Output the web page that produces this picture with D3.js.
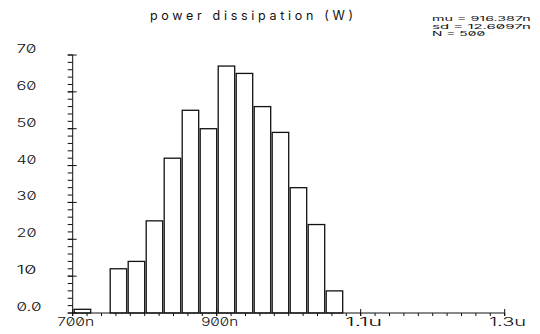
<!DOCTYPE html>
<html>
<head>
<meta charset="UTF-8">
<style>
body { margin: 0; background: #fff; }
text { font-family: Inter, "DejaVu Sans", sans-serif; font-variant-numeric: slashed-zero; font-feature-settings: "zero" 1; fill: #111; }
.tick-label { font-weight: 300; }
</style>
</head>
<body>
<svg width="540" height="334"></svg>
<script src="https://cdnjs.cloudflare.com/ajax/libs/d3/7.8.5/d3.min.js"></script>
<script>
// histogram bins (start of each 25n bin) and counts
var binStarts = [700, 725, 750, 775, 800, 825, 850, 875, 900, 925, 950, 975, 1000, 1025, 1050];
var counts    = [1, 0, 12, 14, 25, 42, 55, 50, 67, 65, 56, 49, 34, 24, 6];
var binWidth = 25;

var xTickValues = [700, 900, 1100, 1300];
var xTickLabels = ["700n", "900n", "1.1u", "1.3u"];
var yTickValues = [0, 10, 20, 30, 40, 50, 60, 70];
var yTickLabels = ["0.0", "10", "20", "30", "40", "50", "60", "70"];
var statsLines = ["mu = 916.387n", "sd = 12.6097n", "N = 500"];
var title = "power dissipation (W)";

var svg = d3.select("svg");
var x = d3.scaleLinear().domain([700, 1300]).range([72.7, 504.7]);
var y = d3.scaleLinear().domain([0, 70]).range([313, 55]);
var ink = "#111";

// bars
svg.append("g").selectAll("rect")
  .data(binStarts.map(function(s, i) { return {start: s, count: counts[i]}; })
        .filter(function(d) { return d.count > 0; }))
  .enter().append("rect")
    .attr("x", function(d) { return x(d.start) + 1.5; })
    .attr("y", function(d) { return y(d.count); })
    .attr("width", function(d) { return x(d.start + binWidth) - x(d.start) - 1.5; })
    .attr("height", function(d) { return y(0) - y(d.count); })
    .attr("fill", "#fff")
    .attr("stroke", ink)
    .attr("stroke-width", 1.3);

// y axis
var ax = svg.append("g").attr("stroke", ink).attr("stroke-width", 1);
ax.append("line").attr("x1", x(700)).attr("x2", x(700)).attr("y1", y(0)).attr("y2", y(70));
ax.selectAll(".ymin").data(d3.range(0, 71, 2)).enter().append("line")
  .attr("x1", x(700) - 5).attr("x2", x(700))
  .attr("y1", function(d) { return y(d); }).attr("y2", function(d) { return y(d); });
ax.selectAll(".ymaj").data(yTickValues).enter().append("line")
  .attr("x1", x(700) - 5).attr("x2", x(700) + 4)
  .attr("y1", function(d) { return y(d); }).attr("y2", function(d) { return y(d); });

// x axis
ax.append("line").attr("x1", x(700)).attr("x2", x(1300)).attr("y1", y(0)).attr("y2", y(0));
ax.selectAll(".xmin").data(d3.range(700, 1301, 20)).enter().append("line")
  .attr("x1", function(d) { return x(d); }).attr("x2", function(d) { return x(d); })
  .attr("y1", y(0)).attr("y2", y(0) + 3);
ax.selectAll(".xmaj").data(xTickValues).enter().append("line")
  .attr("x1", function(d) { return x(d); }).attr("x2", function(d) { return x(d); })
  .attr("y1", y(0) - 4).attr("y2", y(0) + 3);

// tick labels (wide stroke-font look: stretch glyphs)
svg.append("g").selectAll("text").data(yTickValues).enter().append("text")
  .attr("class", "tick-label")
  .attr("x", 16.5)
  .attr("y", function(d) { return y(d) - 2; })
  .attr("font-size", 11)
  .attr("textLength", function(d, i) { return yTickLabels[i].length == 3 ? 25 : 20; })
  .attr("lengthAdjust", "spacingAndGlyphs")
  .text(function(d, i) { return yTickLabels[i]; });

svg.append("g").selectAll("text").data(xTickValues).enter().append("text")
  .attr("class", "tick-label")
  .attr("x", function(d) { return x(d) + 3 - 18.5; })
  .attr("y", 326)
  .attr("font-size", 11)
  .attr("textLength", 37)
  .attr("lengthAdjust", "spacingAndGlyphs")
  .text(function(d, i) { return xTickLabels[i]; });

// title
svg.append("text")
  .attr("x", 150).attr("y", 20)
  .attr("font-size", 12.5)
  .attr("textLength", 203)
  .attr("lengthAdjust", "spacing")
  .text(title);

// stats
svg.append("g").selectAll("text").data(statsLines).enter().append("text")
  .attr("x", 432)
  .attr("y", function(d, i) { return 21 + i * 7.6; })
  .attr("font-size", 6.2)
  .attr("textLength", function(d) { return d.length * 7.6; })
  .attr("lengthAdjust", "spacingAndGlyphs")
  .text(function(d) { return d; });
</script>
</body>
</html>
